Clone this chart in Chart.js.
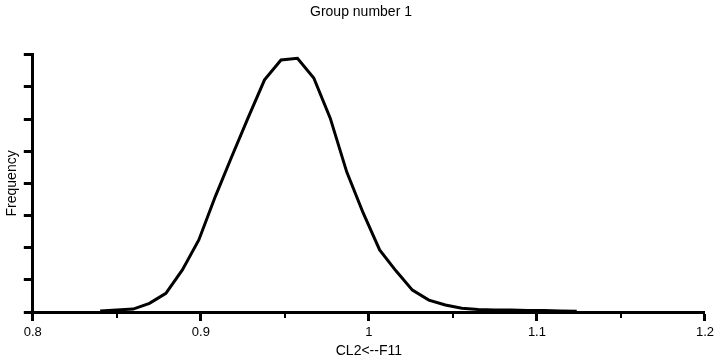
<!DOCTYPE html>
<html>
<head>
<meta charset="utf-8">
<script src="https://cdn.jsdelivr.net/npm/chart.js@4"></script>
<style>
    html, body { margin: 0; padding: 0; background: #fff; }
    #wrap { width: 719px; height: 358px; }
</style>
</head>
<body>
<div id="wrap"><canvas id="chart"></canvas></div>
<script>
// Bin centres (CL2<--F11)
const binCentres = [0.8401, 0.8499, 0.8597, 0.8694, 0.8792, 0.8890, 0.8988, 0.9086, 0.9183, 0.9281,
                    0.9379, 0.9477, 0.9575, 0.9672, 0.9770, 0.9868, 0.9966, 1.0064, 1.0161, 1.0259,
                    1.0357, 1.0455, 1.0553, 1.0650, 1.0748, 1.0846, 1.0944, 1.1042, 1.1139, 1.1237];
// Frequency, in units of the (unlabelled) y tick spacing
const frequency = [0.03, 0.06, 0.09, 0.27, 0.58, 1.31, 2.24, 3.59, 4.82, 6.04,
                   7.22, 7.84, 7.89, 7.28, 6.03, 4.36, 3.08, 1.93, 1.28, 0.68,
                   0.37, 0.22, 0.12, 0.08, 0.06, 0.06, 0.05, 0.05, 0.03, 0.02];
const xTickLabels = ['0.8', '0.9', '1', '1.1', '1.2'];

const FONT = 'Liberation Sans, Arial, sans-serif';

// short minor ticks half way between the labelled x ticks
const minorTicks = {
    id: 'minorTicks',
    afterDraw(chart) {
        const sx = chart.scales.x;
        const ctx = chart.ctx;
        const ticks = sx.ticks;
        ctx.save();
        ctx.strokeStyle = '#000';
        ctx.lineWidth = 2;
        for (let i = 0; i < ticks.length - 1; i++) {
            const px = sx.getPixelForValue((ticks[i].value + ticks[i + 1].value) / 2);
            ctx.beginPath();
            ctx.moveTo(Math.round(px), sx.top);
            ctx.lineTo(Math.round(px), sx.top + 6);
            ctx.stroke();
        }
        ctx.restore();
    }
};

new Chart(document.getElementById('chart'), {
    type: 'line',
    data: {
        datasets: [{
            data: binCentres.map((x, i) => ({ x: x, y: frequency[i] })),
            borderColor: '#000',
            borderWidth: 3,
            pointRadius: 0,
            tension: 0,
            fill: false
        }]
    },
    options: {
        responsive: true,
        maintainAspectRatio: false,
        animation: false,
        layout: { padding: { left: 0, right: -3, top: 0, bottom: 0 } },
        plugins: {
            legend: { display: false },
            tooltip: { enabled: false },
            title: {
                display: true,
                text: 'Group number 1',
                color: '#000',
                font: { family: FONT, size: 14, weight: 'normal' },
                padding: { top: 4, bottom: 34 }
            }
        },
        scales: {
            x: {
                type: 'linear',
                min: 0.8,
                max: 1.2,
                border: { display: true, color: '#000', width: 3 },
                grid: {
                    drawOnChartArea: false,
                    drawTicks: true,
                    tickLength: 9,
                    tickWidth: 3,
                    tickColor: '#000'
                },
                ticks: {
                    stepSize: 0.1,
                    color: '#000',
                    padding: 5,
                    maxRotation: 0,
                    font: { family: FONT, size: 13, lineHeight: 1 },
                    callback: (v, i) => xTickLabels[i]
                },
                title: {
                    display: true,
                    text: 'CL2<--F11',
                    color: '#000',
                    font: { family: FONT, size: 14, lineHeight: 1 },
                    padding: { top: 0, bottom: 0 }
                }
            },
            y: {
                min: 0,
                max: 8,
                border: { display: true, color: '#000', width: 3 },
                grid: {
                    drawOnChartArea: false,
                    drawTicks: true,
                    tickLength: 9,
                    tickWidth: 3,
                    tickColor: '#000'
                },
                ticks: { stepSize: 1, display: false },
                title: {
                    display: true,
                    text: 'Frequency',
                    color: '#000',
                    font: { family: FONT, size: 14 },
                    padding: { top: 4, bottom: 3 }
                }
            }
        }
    },
    plugins: [minorTicks]
});
</script>
</body>
</html>
